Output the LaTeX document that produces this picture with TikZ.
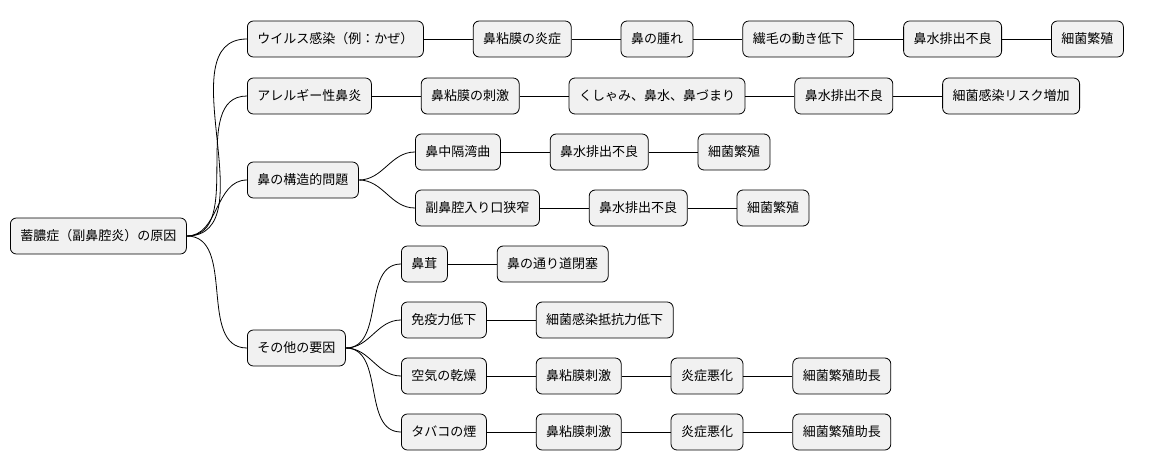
\documentclass[tikz,border=0pt]{standalone}
\usepackage{fontspec}
\setmainfont{Noto Sans CJK JP}
\usetikzlibrary{positioning}
\tikzset{
  box/.style={draw,rounded corners=6pt,fill={rgb,255:red,241;green,241;blue,241},minimum height=36pt,inner xsep=10pt,font=\fontsize{13pt}{15pt}\selectfont,line width=0.8pt},
  link/.style={line width=0.8pt},
}
\begin{document}
\begin{tikzpicture}[x=1pt,y=-1pt,node distance=49pt]
\useasboundingbox (0,0) rectangle (1174,471);
% root
\node[box,anchor=west] (root) at (10,236) {蓄膿症（副鼻腔炎）の原因};
% first level
\node[box,anchor=west] (virus) at (247,39) {ウイルス感染（例：かぜ）};
\node[box,anchor=west] (allergy) at (247,96) {アレルギー性鼻炎};
\node[box,anchor=west] (struct) at (247,180) {鼻の構造的問題};
\node[box,anchor=west] (other) at (247,348) {その他の要因};
\foreach \n in {virus,allergy,struct,other}
  \draw[link] (root.east) to[out=0,in=180] (\n.west);
% virus chain
\node[box,right=of virus] (v1) {鼻粘膜の炎症};
\node[box,right=of v1] (v2) {鼻の腫れ};
\node[box,right=of v2] (v3) {繊毛の動き低下};
\node[box,right=of v3] (v4) {鼻水排出不良};
\node[box,right=of v4] (v5) {細菌繁殖};
\draw[link] (virus) -- (v1) -- (v2) -- (v3) -- (v4) -- (v5);
% allergy chain
\node[box,right=of allergy] (a1) {鼻粘膜の刺激};
\node[box,right=of a1] (a2) {くしゃみ、鼻水、鼻づまり};
\node[box,right=of a2] (a3) {鼻水排出不良};
\node[box,right=of a3] (a4) {細菌感染リスク増加};
\draw[link] (allergy) -- (a1) -- (a2) -- (a3) -- (a4);
% structural problems
\node[box,anchor=west] (s1) at (415,152) {鼻中隔湾曲};
\node[box,right=of s1] (s1a) {鼻水排出不良};
\node[box,right=of s1a] (s1b) {細菌繁殖};
\node[box,anchor=west] (s2) at (415,208) {副鼻腔入り口狭窄};
\node[box,right=of s2] (s2a) {鼻水排出不良};
\node[box,right=of s2a] (s2b) {細菌繁殖};
\foreach \n in {s1,s2}
  \draw[link] (struct.east) to[out=0,in=180] (\n.west);
\draw[link] (s1) -- (s1a) -- (s1b);
\draw[link] (s2) -- (s2a) -- (s2b);
% other factors
\node[box,anchor=west] (o1) at (401,264) {鼻茸};
\node[box,right=of o1] (o1a) {鼻の通り道閉塞};
\node[box,anchor=west] (o2) at (401,320) {免疫力低下};
\node[box,right=of o2] (o2a) {細菌感染抵抗力低下};
\node[box,anchor=west] (o3) at (401,376) {空気の乾燥};
\node[box,right=of o3] (o3a) {鼻粘膜刺激};
\node[box,right=of o3a] (o3b) {炎症悪化};
\node[box,right=of o3b] (o3c) {細菌繁殖助長};
\node[box,anchor=west] (o4) at (401,432) {タバコの煙};
\node[box,right=of o4] (o4a) {鼻粘膜刺激};
\node[box,right=of o4a] (o4b) {炎症悪化};
\node[box,right=of o4b] (o4c) {細菌繁殖助長};
\foreach \n in {o1,o2,o3,o4}
  \draw[link] (other.east) to[out=0,in=180] (\n.west);
\draw[link] (o1) -- (o1a);
\draw[link] (o2) -- (o2a);
\draw[link] (o3) -- (o3a) -- (o3b) -- (o3c);
\draw[link] (o4) -- (o4a) -- (o4b) -- (o4c);
\end{tikzpicture}
\end{document}
